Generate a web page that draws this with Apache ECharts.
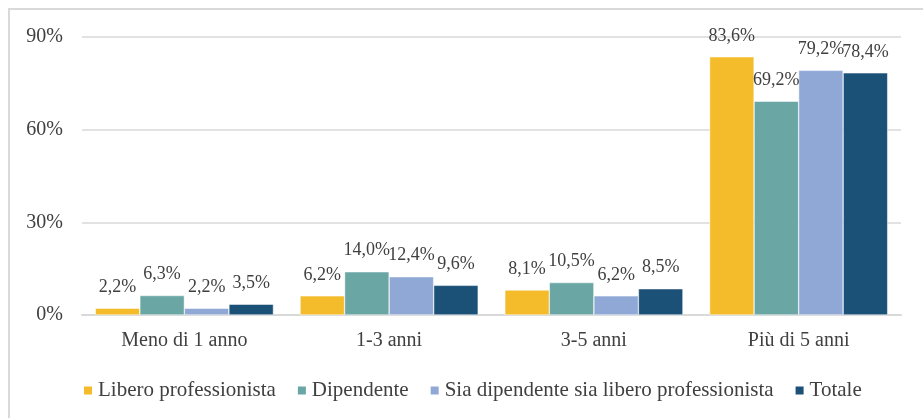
<!DOCTYPE html>
<html>
<head>
<meta charset="utf-8">
<script src="https://cdn.jsdelivr.net/npm/echarts@6/dist/echarts.min.js"></script>
<style>
  html, body { margin: 0; padding: 0; background: #fff; }
  #chart { width: 923px; height: 418px; }
</style>
</head>
<body>
<div id="chart"></div>
<script>
// Anni di attività per tipologia di occupazione
const categories = ['Meno di 1 anno', '1-3 anni', '3-5 anni', 'Più di 5 anni'];
const seriesNames = ['Libero professionista', 'Dipendente', 'Sia dipendente sia libero professionista', 'Totale'];
const liberoProfessionista = [2.2, 6.2, 8.1, 83.6];
const dipendente = [6.3, 14.0, 10.5, 69.2];
const entrambi = [2.2, 12.4, 6.2, 79.2];
const totale = [3.5, 9.6, 8.5, 78.4];
const yTicks = [0, 30, 60, 90];

const colors = ['#F4BC2B', '#69A6A4', '#8FA8D6', '#1B5077'];
const values = [liberoProfessionista, dipendente, entrambi, totale];
const FONT = 'Liberation Serif';
const TEXT = '#404040';

const fmt = v => v.toFixed(1).replace('.', ',') + '%';

const chart = echarts.init(document.getElementById('chart'));
chart.setOption({
  animation: false,
  color: colors,
  textStyle: { fontFamily: FONT, color: TEXT },
  graphic: [{
    type: 'rect',
    shape: { x: 9, y: 9, width: 940, height: 440 },
    style: { fill: 'none', stroke: '#d9d9d9', lineWidth: 2 },
    silent: true
  }],
  grid: { left: 82, right: 22, top: 37, bottom: 103 },
  legend: {
    data: seriesNames,
    left: 77,
    top: 375,
    icon: 'rect',
    itemWidth: 10,
    itemHeight: 10,
    itemGap: 20,
    textStyle: { fontFamily: FONT, fontSize: 21, color: TEXT, padding: [0, 0, 0, 0] }
  },
  xAxis: {
    type: 'category',
    data: categories,
    axisTick: { show: false },
    axisLine: { lineStyle: { color: '#d9d9d9', width: 2 } },
    axisLabel: { fontFamily: FONT, fontSize: 20, color: TEXT, margin: 16 }
  },
  yAxis: {
    type: 'value',
    min: yTicks[0],
    max: yTicks[yTicks.length - 1],
    interval: 30,
    axisLabel: { fontFamily: FONT, fontSize: 20, color: TEXT, margin: 19, formatter: v => v + '%' },
    splitLine: { lineStyle: { color: '#d9d9d9', width: 1.5 } },
    axisLine: { show: false },
    axisTick: { show: false }
  },
  series: seriesNames.map((name, i) => ({
    name,
    type: 'bar',
    data: values[i],
    barGap: '0%',
    barCategoryGap: '13%',
    itemStyle: { color: colors[i], borderColor: '#ffffff', borderWidth: 0.5 },
    label: {
      show: true,
      position: 'top',
      distance: 12,
      fontFamily: FONT,
      fontSize: 18,
      color: TEXT,
      formatter: p => fmt(p.value)
    }
  }))
});
</script>
</body>
</html>
